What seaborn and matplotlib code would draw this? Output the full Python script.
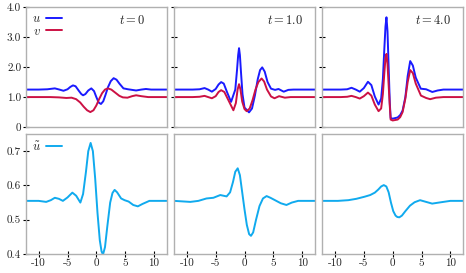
import numpy as np
import pandas as pd
import matplotlib
matplotlib.use("Agg")
import matplotlib.pyplot as plt
import seaborn as sns

# ---------------- data ----------------
times = ["$t = 0$", "$t = 1.0$", "$t = 4.0$"]

# t = 0
x_u0 = [-12.2, -10, -8.5, -7.2, -6.4, -5.7, -5.0, -4.5, -4.05, -3.6, -3.0, -2.6, -2.3, -1.9, -1.4, -0.87, -0.4, 0.0, 0.4, 0.8, 1.2, 1.6, 2.0, 2.5, 3.0, 3.5, 4.0, 4.7, 5.5, 6.2, 6.9, 7.8, 8.6, 9.5, 12.2]
u0 = [1.25, 1.25, 1.26, 1.29, 1.25, 1.21, 1.26, 1.34, 1.39, 1.36, 1.20, 1.10, 1.06, 1.10, 1.22, 1.29, 1.20, 1.00, 0.82, 0.77, 0.86, 1.08, 1.32, 1.53, 1.63, 1.58, 1.45, 1.29, 1.26, 1.24, 1.22, 1.25, 1.27, 1.25, 1.25]
x_v0 = [-12.2, -8, -6.5, -5.2, -4.3, -3.5, -2.8, -2.2, -1.6, -1.04, -0.5, 0.0, 0.5, 1.0, 1.5, 2.0, 2.6, 3.2, 4.0, 4.6, 5.4, 6.2, 6.9, 7.8, 9.0, 12.2]
v0 = [1.0, 1.0, 0.99, 0.97, 0.98, 0.93, 0.82, 0.68, 0.56, 0.50, 0.56, 0.72, 0.94, 1.13, 1.25, 1.29, 1.25, 1.16, 1.04, 0.99, 0.98, 1.03, 1.06, 1.03, 1.0, 1.0]
x_w0 = [-12.2, -10, -8.7, -7.9, -7.2, -6.5, -5.8, -5.0, -4.16, -3.5, -2.77, -2.3, -1.8, -1.4, -0.99, -0.6, -0.2, 0.2, 0.6, 0.9, 1.15, 1.5, 1.9, 2.4, 2.8, 3.17, 3.6, 4.3, 4.9, 5.6, 6.4, 7.2, 8.0, 9.2, 12.2]
w0 = [0.555, 0.555, 0.552, 0.557, 0.564, 0.561, 0.555, 0.565, 0.579, 0.570, 0.550, 0.575, 0.640, 0.700, 0.724, 0.700, 0.620, 0.520, 0.440, 0.408, 0.398, 0.420, 0.480, 0.550, 0.578, 0.587, 0.580, 0.562, 0.557, 0.553, 0.543, 0.539, 0.546, 0.555, 0.555]

# t = 1.0
x_u1 = [-12.2, -9, -7.8, -6.93, -6.3, -5.66, -5.0, -4.5, -4.05, -3.6, -3.0, -2.33, -1.6, -1.3, -1.1, -0.95, -0.8, -0.6, -0.35, 0.0, 0.78, 1.3, 1.8, 2.3, 2.7, 3.07, 3.5, 4.0, 4.6, 5.3, 5.9, 6.8, 7.6, 8.5, 12.2]
u1 = [1.25, 1.25, 1.26, 1.30, 1.25, 1.18, 1.27, 1.42, 1.50, 1.45, 1.15, 0.84, 1.25, 1.90, 2.40, 2.63, 2.40, 1.80, 1.10, 0.65, 0.49, 0.62, 1.05, 1.60, 1.90, 1.99, 1.85, 1.50, 1.28, 1.24, 1.27, 1.18, 1.24, 1.25, 1.25]
x_v1 = [-12.2, -9, -7.8, -6.93, -6.3, -5.66, -5.0, -4.5, -4.05, -3.5, -2.8, -1.93, -1.5, -1.2, -0.95, -0.7, -0.4, 0.0, 0.37, 0.9, 1.4, 1.9, 2.4, 2.96, 3.4, 3.9, 4.6, 5.2, 6.0, 7.0, 8.0, 12.2]
v1 = [1.0, 1.0, 1.01, 1.04, 1.0, 0.96, 1.03, 1.17, 1.23, 1.17, 0.90, 0.56, 0.80, 1.25, 1.43, 1.25, 0.85, 0.60, 0.53, 0.62, 0.90, 1.25, 1.50, 1.62, 1.52, 1.25, 1.02, 0.96, 1.03, 0.98, 1.0, 1.0]
x_w1 = [-12.2, -9.4, -8, -6.6, -5.4, -4.2, -3.1, -2.5, -2.0, -1.6, -1.18, -0.8, -0.4, 0.0, 0.4, 0.8, 1.12, 1.5, 2.0, 2.6, 3.2, 3.83, 4.5, 5.4, 6.3, 7.27, 8.2, 9.3, 12.2]
w1 = [0.555, 0.552, 0.555, 0.562, 0.564, 0.572, 0.568, 0.580, 0.610, 0.640, 0.650, 0.630, 0.580, 0.530, 0.485, 0.458, 0.453, 0.463, 0.500, 0.540, 0.562, 0.569, 0.564, 0.556, 0.548, 0.543, 0.550, 0.555, 0.555]

# t = 4.0
x_u4 = [-12.2, -9, -7.9, -7.14, -6.4, -5.71, -5.0, -4.29, -3.7, -3.1, -2.45, -2.0, -1.7, -1.45, -1.25, -1.08, -0.9, -0.7, -0.5, -0.35, 0.0, 0.86, 1.3, 1.72, 2.2, 2.6, 3.04, 3.5, 4.0, 4.87, 5.8, 6.87, 7.8, 8.8, 12.2]
u4 = [1.25, 1.25, 1.26, 1.31, 1.25, 1.18, 1.30, 1.51, 1.40, 1.02, 0.75, 0.95, 1.60, 2.60, 3.35, 3.66, 3.20, 2.00, 0.80, 0.30, 0.28, 0.32, 0.40, 0.55, 1.00, 1.70, 2.20, 2.05, 1.65, 1.28, 1.26, 1.17, 1.22, 1.25, 1.25]
x_v4 = [-12.2, -9, -7.9, -7.14, -6.4, -5.71, -5.0, -4.29, -3.7, -3.1, -2.45, -2.0, -1.7, -1.45, -1.25, -1.08, -0.9, -0.7, -0.5, -0.35, 0.0, 0.86, 1.3, 1.72, 2.2, 2.6, 3.04, 3.5, 4.0, 4.9, 5.8, 6.5, 7.5, 8.8, 12.2]
v4 = [1.0, 1.0, 1.01, 1.04, 1.0, 0.95, 1.03, 1.15, 1.05, 0.75, 0.53, 0.62, 1.10, 1.80, 2.30, 2.44, 2.10, 1.40, 0.70, 0.25, 0.22, 0.25, 0.33, 0.50, 0.95, 1.50, 1.90, 1.80, 1.45, 1.05, 0.97, 0.93, 0.98, 1.0, 1.0]
x_w4 = [-12.2, -9.5, -7.7, -6.3, -4.9, -3.9, -3.1, -2.5, -2.0, -1.54, -1.1, -0.7, -0.3, 0.1, 0.5, 0.8, 1.15, 1.6, 2.2, 3.0, 3.8, 4.75, 5.8, 6.85, 8.0, 10.0, 12.2]
w4 = [0.555, 0.555, 0.557, 0.561, 0.567, 0.572, 0.579, 0.588, 0.597, 0.601, 0.597, 0.580, 0.550, 0.525, 0.512, 0.508, 0.507, 0.512, 0.525, 0.541, 0.551, 0.557, 0.552, 0.547, 0.550, 0.555, 0.555]

xticks = [-10, -5, 0, 5, 10]
xticklabels = ["-10", "-5", "0", "5", "10"]
yticks_top = [0, 1, 2, 3, 4]
yticklabels_top = ["0", "1.0", "2.0", "3.0", "4.0"]
yticks_bot = [0.4, 0.5, 0.6, 0.7]
yticklabels_bot = ["0.4", "0.5", "0.6", "0.7"]

# ---------------- style ----------------
sns.set_style("ticks")
plt.rcParams["font.family"] = ["serif"]
plt.rcParams["font.serif"] = ["cmr10", "DejaVu Serif"]
plt.rcParams["mathtext.fontset"] = "cm"
plt.rcParams["axes.unicode_minus"] = False

C_U = "#1a1aff"
C_V = "#cc1144"
C_W = "#10aaee"
FRAME = "#b0b0b0"
LW = 1.4

fig, axes = plt.subplots(2, 3, figsize=(4.66, 2.73), dpi=100)
fig.subplots_adjust(left=0.0558, right=0.9936, top=0.974, bottom=0.0696,
                    wspace=0.0533, hspace=0.058)

top_data = [(x_u0, u0, x_v0, v0), (x_u1, u1, x_v1, v1), (x_u4, u4, x_v4, v4)]
bot_data = [(x_w0, w0), (x_w1, w1), (x_w4, w4)]

for i in range(3):
    axt = axes[0, i]
    axb = axes[1, i]
    xu, yu, xv, yv = top_data[i]
    sns.lineplot(x=xu, y=yu, ax=axt, color=C_U, lw=LW, estimator=None, label="$u$")
    sns.lineplot(x=xv, y=yv, ax=axt, color=C_V, lw=LW, estimator=None, label="$v$")
    xw, yw = bot_data[i]
    sns.lineplot(x=xw, y=yw, ax=axb, color=C_W, lw=LW, estimator=None, label=r"$\tilde{u}$")

    axt.set_ylim(0, 4)
    axb.set_ylim(0.4, 0.75)
    for ax in (axt, axb):
        ax.set_xlim(-12.2, 12.2)
        for s in ax.spines.values():
            s.set_color(FRAME)
            s.set_linewidth(1.0)
        ax.set_xlabel("")
        ax.set_ylabel("")
        ax.tick_params(direction="inout", length=4, width=0.8, color="black",
                       labelsize=8, labelcolor="#222222", pad=1.5)

    axt.set_xticks([])
    axt.set_yticks(yticks_top)
    axb.set_xticks(xticks)
    axb.set_xticklabels(xticklabels)
    if i == 0:
        axt.set_yticklabels(yticklabels_top)
        axb.set_yticks(yticks_bot)
        axb.set_yticklabels(yticklabels_bot)
        leg = axt.legend(loc="upper left", markerfirst=False, frameon=False,
                         fontsize=9, handlelength=1.3, handletextpad=0.4,
                         labelspacing=0.0, borderaxespad=0.2, borderpad=0.3)
        leg2 = axb.legend(loc="upper left", markerfirst=False, frameon=False,
                          fontsize=9, handlelength=1.3, handletextpad=0.4,
                          labelspacing=0.0, borderaxespad=0.2, borderpad=0.3)
    else:
        axt.set_yticklabels([])
        axb.set_yticks([])
        axt.get_legend().remove()
        axb.get_legend().remove()

    axt.text(0.66, 0.885, times[i], transform=axt.transAxes, ha="left", va="center",
             fontsize=9, color="#222222")

fig.savefig("out.png", dpi=100)
